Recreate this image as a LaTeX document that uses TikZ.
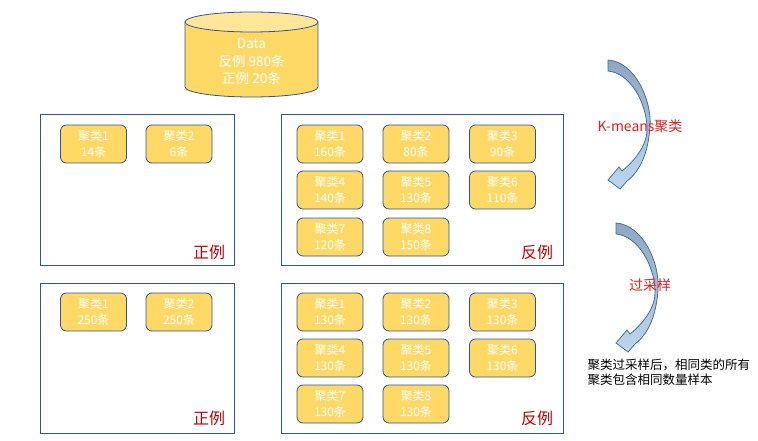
\documentclass[tikz,border=0pt]{standalone}
\usepackage{fontspec}
\setmainfont{Noto Sans CJK SC}
\definecolor{frameblue}{HTML}{2F5597}
\definecolor{gold}{HTML}{FFD966}
\definecolor{palegold}{HTML}{FFE699}
\definecolor{labelred}{HTML}{C00000}
\definecolor{textred}{HTML}{E02020}
\definecolor{arrowtop}{HTML}{8EA6C2}
\definecolor{arrowbottom}{HTML}{BDD7EE}
\definecolor{arrowline}{HTML}{41719C}

\tikzset{
  bentarrow/.pic={
    \draw[arrowline, line width=0.8pt, top color=arrowtop, bottom color=arrowbottom]
      (0,0) .. controls (27,2) and (44,40) .. (42,67)
      .. controls (40,95) and (31,112) .. (19,121)
      -- (12,129) -- (0,120) -- (11,107) -- (14,111)
      .. controls (30,98) and (40,82) .. (39,67)
      .. controls (38,42) and (22,13) .. (0,11) -- cycle;
  }
}

\begin{document}
\begin{tikzpicture}[x=1pt, y=-1pt,
  cluster/.style={draw=frameblue, fill=gold, rounded corners=6pt, line width=0.8pt,
    minimum width=66pt, minimum height=38pt, inner sep=0pt, text=white,
    align=center, font=\fontsize{12}{16}\selectfont},
  group/.style={draw=frameblue, line width=0.9pt, inner sep=0pt},
  sidelabel/.style={text=labelred, font=\fontsize{16}{18}\selectfont},
  steplabel/.style={text=textred, font=\fontsize{14}{16}\selectfont}]
  \useasboundingbox (0,0) rectangle (758,441);

  % data store
  \fill[gold] (185,22) rectangle (318,87);
  \fill[gold] (251.5,87) ellipse [x radius=66.5, y radius=10];
  \draw[frameblue, line width=0.8pt] (185,22) -- (185,87) arc (180:0:66.5 and 10) -- (318,22);
  \draw[frameblue, line width=0.8pt, fill=palegold] (251.5,22) ellipse [x radius=66.5, y radius=10];
  \node[text=white, align=center, font=\fontsize{13.5}{17.5}\selectfont] (data) at (251.5,62)
    {Data\\反例 980条\\正例 20条};

  % before oversampling
  \node[group, minimum width=194pt, minimum height=151pt] (posA) at (137,189.5) {};
  \node[group, minimum width=282pt, minimum height=151pt] (negA) at (422,189.5) {};
  \node[cluster] (pa1) at (93.5,144) {聚类1\\14条};
  \node[cluster] (pa2) at (179,144) {聚类2\\6条};
  \node[sidelabel] (pa) at (209,252) {正例};
  \node[cluster] (na1) at (330,144) {聚类1\\160条};
  \node[cluster] (na2) at (416,144) {聚类2\\80条};
  \node[cluster] (na3) at (502.5,144) {聚类3\\90条};
  \node[cluster] (na4) at (330,190) {聚类4\\140条};
  \node[cluster] (na5) at (416,190) {聚类5\\130条};
  \node[cluster] (na6) at (502.5,190) {聚类6\\110条};
  \node[cluster] (na7) at (330,237) {聚类7\\120条};
  \node[cluster] (na8) at (416,237) {聚类8\\150条};
  \node[sidelabel] (na) at (537,252) {反例};

  % after oversampling
  \node[group, minimum width=194pt, minimum height=150pt] (posB) at (137,358) {};
  \node[group, minimum width=282pt, minimum height=150pt] (negB) at (422,358) {};
  \node[cluster] (pb1) at (93.5,312) {聚类1\\250条};
  \node[cluster] (pb2) at (179,312) {聚类2\\250条};
  \node[sidelabel] (pb) at (209,418) {正例};
  \node[cluster] (nb1) at (330,312) {聚类1\\130条};
  \node[cluster] (nb2) at (416,312) {聚类2\\130条};
  \node[cluster] (nb3) at (502.5,312) {聚类3\\130条};
  \node[cluster] (nb4) at (330,358) {聚类4\\130条};
  \node[cluster] (nb5) at (416,358) {聚类5\\130条};
  \node[cluster] (nb6) at (502.5,358) {聚类6\\130条};
  \node[cluster] (nb7) at (330,404) {聚类7\\130条};
  \node[cluster] (nb8) at (416,404) {聚类8\\130条};
  \node[sidelabel] (nb) at (537,418) {反例};

  % steps
  \pic at (608,60) {bentarrow};
  \node[steplabel] (kmeans) at (640,126) {K-means聚类};
  \pic at (616,223) {bentarrow};
  \node[steplabel] (oversample) at (650,285) {过采样};
  \node[anchor=north west, align=left, font=\fontsize{12.5}{15}\selectfont] (note) at (584,355)
    {聚类过采样后，相同类的所有\\聚类包含相同数量样本};
\end{tikzpicture}
\end{document}
